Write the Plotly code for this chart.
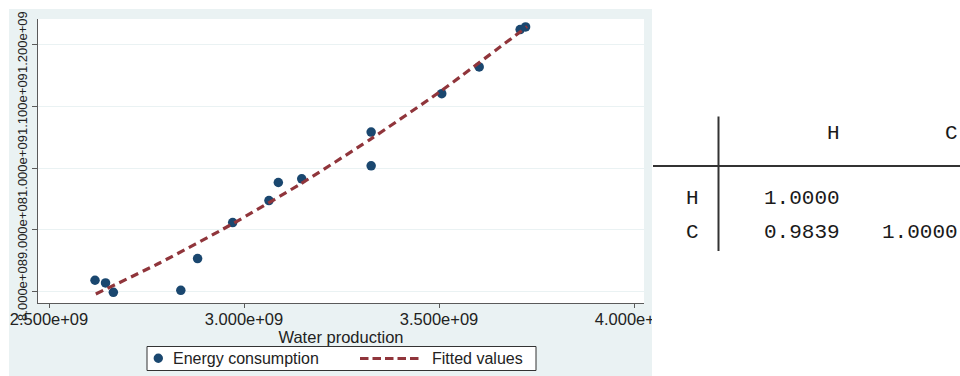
import plotly.graph_objects as go

# ---- data ----
water = [2.618e9, 2.645e9, 2.665e9, 2.838e9, 2.881e9, 2.971e9, 3.064e9, 3.088e9,
         3.148e9, 3.326e9, 3.326e9, 3.507e9, 3.603e9, 3.708e9, 3.722e9]
energy = [8.189e8, 8.145e8, 7.995e8, 8.027e8, 8.538e8, 9.120e8, 9.475e8, 9.766e8,
          9.826e8, 10.580e8, 10.036e8, 11.199e8, 11.630e8, 12.233e8, 12.276e8]

fit_x = [2.620e9, 2.785e9, 2.964e9, 3.144e9, 3.323e9, 3.503e9, 3.726e9]
fit_y = [7.968e8, 8.472e8, 9.076e8, 9.740e8, 10.459e8, 11.234e8, 12.281e8]

x_ticks = [2.5e9, 3.0e9, 3.5e9, 4.0e9]
x_ticktext = ["2.500e+09", "3.000e+09", "3.500e+09", "4.000e+09"]
y_ticks = [8e8, 9e8, 1.0e9, 1.1e9, 1.2e9]
y_ticktext = ["8.000e+08", "9.000e+08", "1.000e+09", "1.100e+09", "1.200e+09"]

series_names = ["Energy consumption", "Fitted values"]

corr_vars = ["H", "C"]
corr_rows = [["1.0000", ""], ["0.9839", "1.0000"]]

# ---- layout geometry (pixels) ----
W, H = 960, 376
L, R, T, B = 38, 644, 19, 303
pw, ph = R - L, B - T


def px(x):
    return (x - L) / pw


def py(y):
    return (B - y) / ph


BG = "#eaf2f3"
NAVY = "#1a476f"
MAROON = "#90353b"
AX = "#5a5a5a"
TXT = "#222222"
DASH = "8px,5px"

fig = go.Figure()
fig.add_trace(go.Scatter(
    x=water, y=energy, mode="markers", name=series_names[0],
    marker=dict(color=NAVY, size=9.5, line=dict(width=0)),
))
fig.add_trace(go.Scatter(
    x=fit_x, y=fit_y, mode="lines", name=series_names[1],
    line=dict(color=MAROON, width=3.2, dash=DASH, shape="spline", smoothing=0.6),
))

shapes = [
    # white regions outside the graph region
    dict(type="rect", xref="paper", yref="paper", x0=px(-2), x1=px(9), y0=py(H + 2), y1=py(-2),
         fillcolor="white", line=dict(width=0), layer="below"),
    dict(type="rect", xref="paper", yref="paper", x0=px(-2), x1=px(W + 2), y0=py(9), y1=py(-2),
         fillcolor="white", line=dict(width=0), layer="below"),
    dict(type="rect", xref="paper", yref="paper", x0=px(652), x1=px(W + 2), y0=py(H + 2), y1=py(-2),
         fillcolor="white", line=dict(width=0), layer="above"),
    # legend box and keys
    dict(type="rect", xref="paper", yref="paper", x0=px(147), x1=px(536), y0=py(370.5), y1=py(346.5),
         fillcolor="white", line=dict(color="#333333", width=1)),
    dict(type="circle", xref="paper", yref="paper", x0=px(153.6), x1=px(163),
         y0=py(363), y1=py(353.6), fillcolor=NAVY, line=dict(width=0)),
    dict(type="line", xref="paper", yref="paper", x0=px(360), x1=px(419), y0=py(358.5), y1=py(358.5),
         line=dict(color=MAROON, width=3, dash="8.5px,4px")),
    # table lines
    dict(type="line", xref="paper", yref="paper", x0=px(718.5), x1=px(718.5),
         y0=py(116.5), y1=py(251), line=dict(color="#333333", width=2)),
    dict(type="line", xref="paper", yref="paper", x0=px(653), x1=px(960),
         y0=py(166), y1=py(166), line=dict(color="#333333", width=2)),
]

annotations = [
    dict(text=series_names[0], xref="paper", yref="paper", x=px(170.5), y=py(358.5),
         xanchor="left", yanchor="middle", showarrow=False, font=dict(size=16, color=TXT)),
    dict(text=series_names[1], xref="paper", yref="paper", x=px(430), y=py(358.5),
         xanchor="left", yanchor="middle", showarrow=False, font=dict(size=16, color=TXT)),
]

mono = dict(family="Liberation Mono, monospace", size=21, color="#1a1a1a")
col_right = [842, 960]
for v, xr in zip(corr_vars, col_right):
    annotations.append(dict(text=v, xref="paper", yref="paper", x=px(xr), y=py(133),
                            xanchor="right", yanchor="middle", showarrow=False, font=mono))
row_y = [198.5, 232]
for name, vals, yy in zip(corr_vars, corr_rows, row_y):
    annotations.append(dict(text=name, xref="paper", yref="paper", x=px(692), y=py(yy),
                            xanchor="center", yanchor="middle", showarrow=False, font=mono))
    for v, xr in zip(vals, col_right):
        if v:
            annotations.append(dict(text=v, xref="paper", yref="paper", x=px(xr), y=py(yy),
                                    xanchor="right", yanchor="middle", showarrow=False, font=mono))

fig.update_layout(
    width=W, height=H,
    margin=dict(l=L, r=W - R, t=T, b=H - B, pad=0, autoexpand=False),
    paper_bgcolor=BG, plot_bgcolor="white",
    font=dict(family="Liberation Sans, Arial, sans-serif", color=TXT, size=16),
    showlegend=False,
    shapes=shapes, annotations=annotations,
    xaxis=dict(range=[2.4718e9, 4.0256e9], tickvals=x_ticks, ticktext=x_ticktext,
               automargin=False,
               showgrid=False, zeroline=False, showline=True, linecolor=AX, linewidth=1.2,
               ticks="outside", ticklen=4, tickcolor=AX, tickwidth=1.2,
               ticklabelstandoff=-3,
               tickfont=dict(size=16.5, color=TXT),
               title=dict(text="Water production", standoff=0,
                          font=dict(size=16.5, color=TXT))),
    yaxis=dict(range=[7.822e8, 12.404e8], tickvals=y_ticks, ticktext=y_ticktext,
               automargin=False,
               showgrid=True, gridcolor=BG, gridwidth=1, zeroline=False,
               showline=True, linecolor=AX, linewidth=1.2,
               ticks="outside", ticklen=5, tickcolor=AX, tickwidth=1.2,
               tickangle=-90, tickfont=dict(size=13, color=TXT)),
)

fig.write_html("out.html",
               config={"displayModeBar": False},
               post_script="document.body.style.margin='0px';"
                           "document.documentElement.style.overflow='hidden';")
